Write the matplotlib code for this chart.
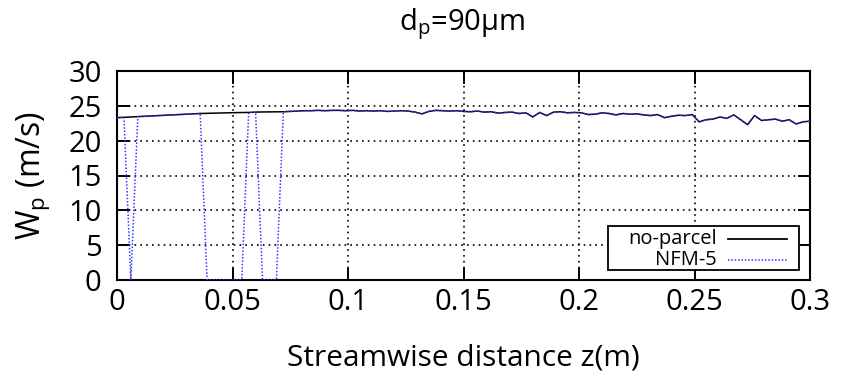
import numpy as np
import matplotlib
matplotlib.use("Agg")
import matplotlib.pyplot as plt
from matplotlib.lines import Line2D
from matplotlib.patches import Rectangle

plt.rcParams['font.family'] = ['Open Sans', 'DejaVu Sans']

# Streamwise stations (every 0.003 m)
z = [round(0.003 * i, 3) for i in range(101)]

# Particle velocity without parcels
w_ref = [23.30, 23.35, 23.40, 23.45, 23.50, 23.55, 23.60, 23.65, 23.70, 23.75,
         23.80, 23.85, 23.90, 23.92, 23.95, 23.97, 24.00, 24.02, 24.04, 24.05,
         24.10, 24.12, 24.13, 24.14, 24.15, 24.20, 24.25, 24.30, 24.30, 24.35,
         24.30, 24.35, 24.35, 24.30, 24.35, 24.25, 24.30, 24.25, 24.30, 24.20,
         24.25, 24.30, 24.25, 24.10, 23.85, 24.20, 24.35, 24.30, 24.25, 24.30,
         24.20, 24.15, 24.25, 24.10, 24.15, 23.95, 24.05, 24.10, 23.90, 24.00,
         23.40, 24.05, 23.60, 24.10, 24.15, 24.00, 24.05, 24.00, 23.75, 23.80,
         24.00, 23.90, 23.70, 23.90, 23.80, 23.85, 23.70, 23.60, 23.75, 23.30,
         23.50, 23.65, 23.60, 23.75, 22.70, 23.00, 23.10, 23.40, 23.20, 23.70,
         23.00, 22.30, 23.60, 22.90, 23.00, 23.10, 22.80, 23.00, 22.40, 22.70,
         22.80]

# Particle velocity with NFM-5
w_nfm = [23.30, 23.35, 0.00, 23.45, 23.50, 23.55, 23.60, 23.65, 23.70, 23.75,
         23.80, 23.85, 23.90, 0.00, 0.00, 0.00, 0.00, 0.00, 0.00, 24.05,
         24.10, 0.00, 0.00, 0.00, 24.15, 24.20, 24.25, 24.30, 24.30, 24.35,
         24.30, 24.35, 24.35, 24.30, 24.35, 24.25, 24.30, 24.25, 24.30, 24.20,
         24.25, 24.30, 24.25, 24.10, 23.85, 24.20, 24.35, 24.30, 24.25, 24.30,
         24.20, 24.15, 24.25, 24.10, 24.15, 23.95, 24.05, 24.10, 23.90, 24.00,
         23.40, 24.05, 23.60, 24.10, 24.15, 24.00, 24.05, 24.00, 23.75, 23.80,
         24.00, 23.90, 23.70, 23.90, 23.80, 23.85, 23.70, 23.60, 23.75, 23.30,
         23.50, 23.65, 23.60, 23.75, 22.70, 23.00, 23.10, 23.40, 23.20, 23.70,
         23.00, 22.30, 23.60, 22.90, 23.00, 23.10, 22.80, 23.00, 22.40, 22.70,
         22.80]

x_ticks = [0, 0.05, 0.1, 0.15, 0.2, 0.25, 0.3]
x_labels = ['0', '0.05', '0.1', '0.15', '0.2', '0.25', '0.3']
y_ticks = [0, 5, 10, 15, 20, 25, 30]
series_labels = ['no-parcel', 'NFM-5']

W, H = 847, 375
fig = plt.figure(figsize=(W / 100, H / 100), dpi=100)
ax = fig.add_axes([117 / W, 1 - 280 / H, 693 / W, 209 / H])

blue_style = dict(color='#3535ff', lw=1.1, linestyle=(0, (1, 1.2)))
ax.plot(z, w_ref, color='black', lw=1.1, zorder=3)
ax.plot(z, w_nfm, zorder=4, **blue_style)

ax.set_xlim(0, 0.3)
ax.set_ylim(0, 30)
ax.set_xticks(x_ticks)
ax.set_xticklabels(x_labels)
ax.set_yticks(y_ticks)

ax.grid(True, color='black', linestyle=(0, (1, 2.5)), linewidth=1.2)
ax.tick_params(direction='in', length=9, width=1.4, top=True, right=True,
               labelsize=21, colors='black')
ax.tick_params(axis='x', pad=6)
ax.tick_params(axis='y', pad=11)
for s in ax.spines.values():
    s.set_linewidth(1.5)

ax.set_xlabel('Streamwise distance z(m)', fontsize=21.5, labelpad=19)
ax.set_ylabel(r'W$_\mathregular{p}$ (m/s)', fontsize=23, labelpad=12)
fig.text(462 / W, 1 - 24 / H, r'd$_\mathregular{p}$=90µm', fontsize=21,
         ha='center', va='center')

# Key box in figure pixel coordinates
def fx(px):
    return px / W

def fy(py):
    return 1 - py / H

fig.add_artist(Rectangle((fx(608), fy(270)), fx(799) - fx(608), fy(226) - fy(270),
                         transform=fig.transFigure, facecolor='white',
                         edgecolor='black', lw=1.3, zorder=10))
rows = [239, 260]
styles = [dict(color='black', lw=1.3), blue_style]
for label, row, st in zip(series_labels, rows, styles):
    fig.text(fx(717), fy(row), label, fontsize=14.5, ha='right', va='center',
             zorder=11)
    fig.add_artist(Line2D([fx(728), fx(787)], [fy(row), fy(row)],
                          transform=fig.transFigure, zorder=11, **st))

fig.savefig('out.png', dpi=100)
